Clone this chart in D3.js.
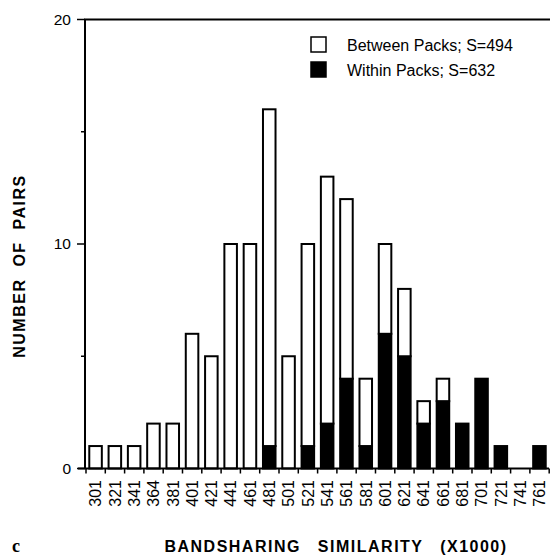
<!DOCTYPE html>
<html>
<head>
<meta charset="utf-8">
<script src="https://cdn.jsdelivr.net/npm/d3@7"></script>
<style>
  body { margin: 0; background: #fff; }
  svg text { font-family: "Liberation Sans", Arial, Helvetica, sans-serif; }
</style>
</head>
<body>
<div class="chart"></div>
<script>
// bandsharing similarity classes (x1000)
const bins = ['301','321','341','364','381','401','421','441','461','481','501','521',
              '541','561','581','601','621','641','661','681','701','721','741','761'];
// within-pack pairs (black part)
const within = [0,0,0,0,0,0,0,0,0,1,0,1,2,4,1,6,5,2,3,2,4,1,0,1];
// between-pack pairs (white part, stacked above)
const between = [1,1,1,2,2,6,5,10,10,15,5,9,11,8,3,4,3,1,1,0,0,0,0,0];
const yTicks = [0,5,10,15,20];
const yLabels = [0,10,20];
const legendItems = [
  {key: 'between', label: 'Between Packs; S=494', fill: '#fff'},
  {key: 'within', label: 'Within Packs; S=632', fill: '#000'}
];

const W = 550, H = 556;
const svg = d3.select('.chart').append('svg')
    .attr('width', W).attr('height', H);

const rows = bins.map((b, i) => ({bin: b, within: within[i], between: between[i]}));
const series = d3.stack().keys(['within','between'])(rows);

const x = d3.scaleBand().domain(bins).range([86, 549]).paddingInner(0.35).paddingOuter(0.17);
const y = d3.scaleLinear().domain([0, 20]).range([468.5, 19.5]);
const fills = {within: '#000', between: '#fff'};

// bars
svg.append('g').selectAll('g')
    .data(series)
    .enter().append('g')
    .attr('fill', d => fills[d.key])
    .selectAll('rect')
    .data(d => d.filter(s => s[1] - s[0] > 0))
    .enter().append('rect')
    .attr('x', d => x(d.data.bin))
    .attr('width', x.bandwidth())
    .attr('y', d => y(d[1]))
    .attr('height', d => y(d[0]) - y(d[1]))
    .attr('stroke', '#000')
    .attr('stroke-width', 2);

// frame: left axis + top line
svg.append('line').attr('x1', 85).attr('x2', 85).attr('y1', y(20)).attr('y2', y(0))
    .attr('stroke', '#000').attr('stroke-width', 2);
svg.append('line').attr('x1', 84).attr('x2', 550).attr('y1', y(20)).attr('y2', y(20))
    .attr('stroke', '#000').attr('stroke-width', 2);
svg.append('line').attr('x1', 78).attr('x2', 549).attr('y1', y(0)).attr('y2', y(0))
    .attr('stroke', '#000').attr('stroke-width', 2);

// y ticks
svg.append('g').selectAll('line')
    .data(yTicks)
    .enter().append('line')
    .attr('x1', d => yLabels.includes(d) ? 77 : 81)
    .attr('x2', 85)
    .attr('y1', d => y(d)).attr('y2', d => y(d))
    .attr('stroke', '#000').attr('stroke-width', 1.5);
svg.append('g').selectAll('text')
    .data(yLabels)
    .enter().append('text')
    .attr('x', 71)
    .attr('y', d => y(d))
    .attr('dy', '0.35em')
    .attr('text-anchor', 'end')
    .attr('font-size', 15.5)
    .text(d => d);

// x ticks at class boundaries
const step = x.step();
const bounds = d3.range(bins.length + 1).map(i => 86 + i * step);
svg.append('g').selectAll('line')
    .data(bounds)
    .enter().append('line')
    .attr('x1', d => d).attr('x2', d => d)
    .attr('y1', y(0)).attr('y2', y(0) + 5)
    .attr('stroke', '#000').attr('stroke-width', 1.5);
svg.append('g').selectAll('text')
    .data(bins)
    .enter().append('text')
    .attr('transform', d => `translate(${x(d) + x.bandwidth() / 2},480) rotate(-90)`)
    .attr('text-anchor', 'end')
    .attr('dy', '0.36em')
    .attr('font-size', 16)
    .text(d => d);

// axis titles
svg.append('text')
    .attr('transform', 'translate(19,266) rotate(-90)')
    .attr('text-anchor', 'middle')
    .attr('dy', '0.36em')
    .attr('font-size', 16)
    .attr('font-weight', 'bold')
    .attr('letter-spacing', 1.5)
    .attr('word-spacing', 6)
    .text('NUMBER OF PAIRS');
svg.append('text')
    .attr('x', 336).attr('y', 546)
    .attr('text-anchor', 'middle')
    .attr('dy', '0.36em')
    .attr('font-size', 16)
    .attr('font-weight', 'bold')
    .attr('letter-spacing', 1.5)
    .attr('word-spacing', 11)
    .text('BANDSHARING SIMILARITY (X1000)');
svg.append('text')
    .attr('x', 16).attr('y', 552)
    .attr('text-anchor', 'middle')
    .style('font-family', '"Liberation Serif", "DejaVu Serif", serif')
    .attr('font-size', 18)
    .attr('font-weight', 'bold')
    .text('c');

// legend
const legend = svg.selectAll('.legend')
    .data(legendItems)
    .enter().append('g')
    .attr('transform', (d, i) => `translate(311,${37 + i * 25})`);
legend.append('rect')
    .attr('width', 15).attr('height', 15)
    .attr('fill', d => d.fill)
    .attr('stroke', '#000').attr('stroke-width', 1.5);
legend.append('text')
    .attr('x', 36).attr('y', 8)
    .attr('dy', '0.36em')
    .attr('font-size', 16)
    .text(d => d.label);
</script>
</body>
</html>
